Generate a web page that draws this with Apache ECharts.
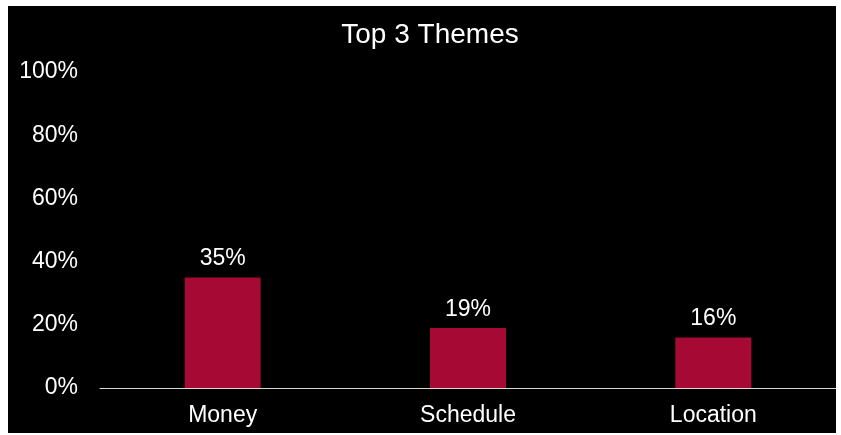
<!DOCTYPE html>
<html>
<head>
<meta charset="utf-8">
<script src="https://cdn.jsdelivr.net/npm/echarts@6/dist/echarts.min.js"></script>
<style>
  html, body { margin: 0; padding: 0; background: #fff; }
  #themes-chart { position: absolute; left: 8px; top: 6px; width: 828px; height: 427px; background: #000; }
</style>
</head>
<body>
<div id="themes-chart"></div>
<script>
var themeNames = ['Money', 'Schedule', 'Location'];
var themeShares = [35, 19, 16];
var yTicks = [0, 20, 40, 60, 80, 100];

//E-chart --top themes
function loadThemesChart() {
    var themesChart = echarts.init(document.getElementById('themes-chart'));

    var themesOption = {
        backgroundColor: '#000',
        textStyle: {
            fontFamily: 'Liberation Sans, Arial, sans-serif'
        },
        title: {
            text: 'Top 3 Themes',
            left: 417,
            top: 10,
            textAlign: 'center',
            textStyle: {
                color: '#fff',
                fontSize: 28,
                fontWeight: 'normal',
                fontFamily: 'Liberation Sans, Arial, sans-serif'
            }
        },
        grid: {
            left: 92,
            right: 0,
            top: 66,
            bottom: 45
        },
        xAxis: {
            type: 'category',
            data: themeNames,
            axisLine: { lineStyle: { color: '#d9d9d9', width: 1 } },
            axisTick: { show: false },
            axisLabel: {
                color: '#fff',
                fontSize: 23,
                margin: 16
            }
        },
        yAxis: {
            type: 'value',
            min: yTicks[0],
            max: yTicks[yTicks.length - 1],
            interval: 20,
            splitLine: { show: false },
            axisLine: { show: false },
            axisTick: { show: false },
            axisLabel: {
                color: '#fff',
                fontSize: 23,
                margin: 22,
                formatter: '{value}%'
            }
        },
        series: [{
            name: 'Share',
            type: 'bar',
            data: themeShares,
            barWidth: 76,
            itemStyle: { color: '#a50934' },
            label: {
                show: true,
                position: 'top',
                distance: 7,
                color: '#fff',
                fontSize: 23,
                formatter: '{c}%'
            }
        }]
    };

    themesChart.setOption(themesOption);
}

loadThemesChart();
</script>
</body>
</html>
